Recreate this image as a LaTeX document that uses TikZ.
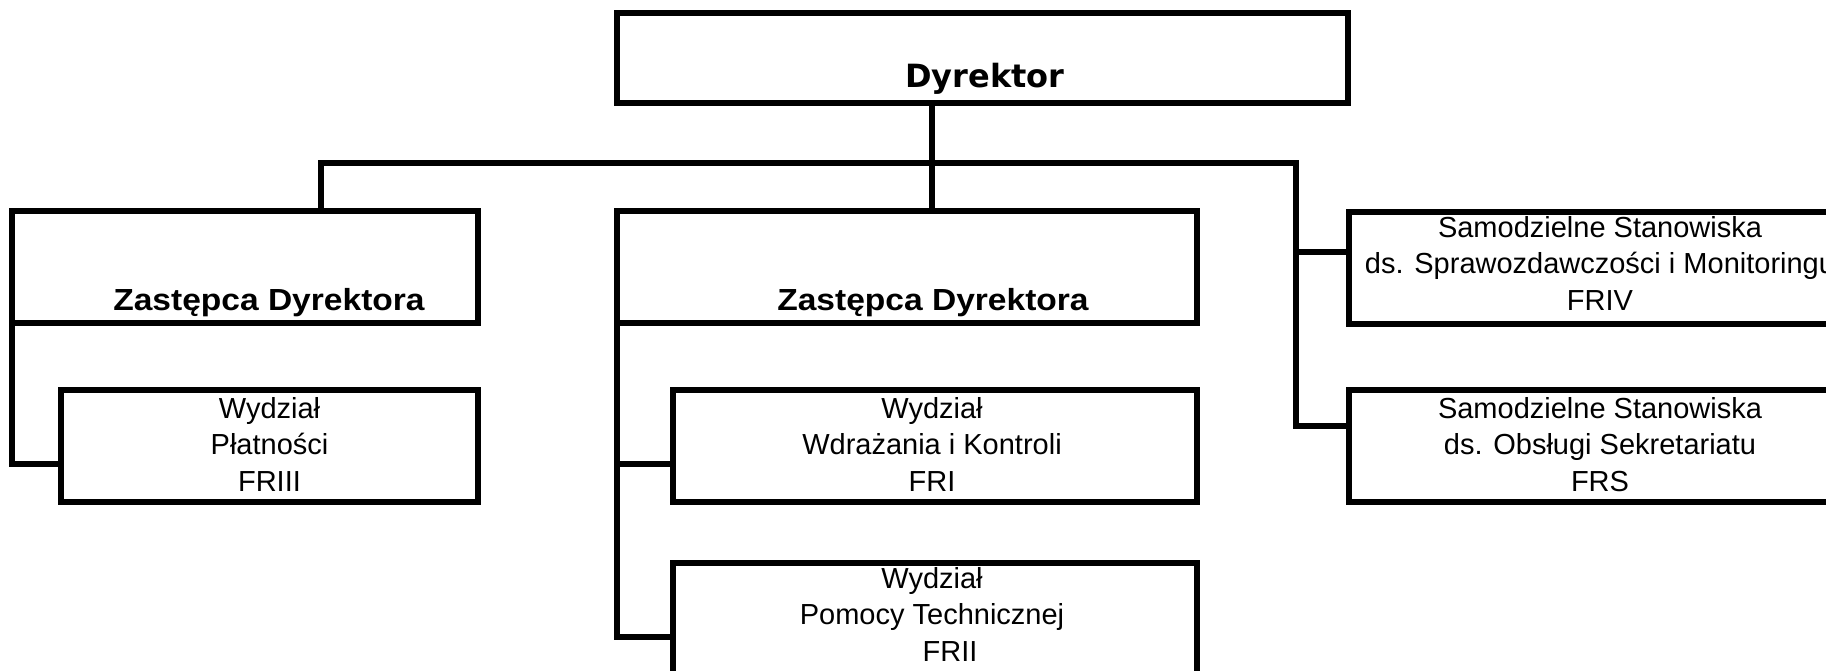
\documentclass[tikz,border=0pt]{standalone}
\usepackage{fontspec}
\setmainfont{Liberation Sans}
\newfontfamily\dyrfont{DejaVu Sans}
\newfontfamily\zdfont[FakeStretch=1.1]{Liberation Sans}
\begin{document}
\begin{tikzpicture}[x=1pt,y=-1pt,
  box/.style={draw=black, line width=5.5pt, rectangle, inner sep=0pt, outer sep=0pt},
  conn/.style={draw=black, line width=5.5pt},
  txt/.style={inner sep=0pt, align=center, font=\fontsize{29}{36.5}\selectfont},
  zdtxt/.style={inner sep=0pt, font=\zdfont\bfseries\fontsize{30.5}{36}\selectfont},
  dyrtxt/.style={inner sep=0pt, font=\dyrfont\bfseries\fontsize{32}{38}\selectfont}]
\useasboundingbox (0,0) rectangle (1826,670);
\clip (0,0) rectangle (1826,670);
\fill[white] (0,0) rectangle (1826,670);
% boxes
\node[box, minimum width=731pt, minimum height=90pt] (dyr) at (982.5,58) {};
\node[box, minimum width=466pt, minimum height=112pt] (zd1) at (245,267) {};
\node[box, minimum width=580pt, minimum height=112pt] (zd2) at (907,267) {};
\node[box, minimum width=502pt, minimum height=112pt] (friv) at (1600,268) {};
\node[box, minimum width=417pt, minimum height=112pt] (platn) at (269.5,446) {};
\node[box, minimum width=524pt, minimum height=112pt] (fri) at (935,446) {};
\node[box, minimum width=524pt, minimum height=112pt] (frii) at (935,619) {};
\node[box, minimum width=502pt, minimum height=112pt] (frs) at (1600,446) {};
% texts (anchor base = baseline of the last line)
\node[dyrtxt, anchor=base] (dyrt) at (985,87) {Dyrektor};
\node[zdtxt, anchor=base] (zd1t) at (269,310) {Zastępca Dyrektora};
\node[zdtxt, anchor=base] (zd2t) at (933,310) {Zastępca Dyrektora};
\node[txt, anchor=base] (frivt) at (1600,310) {Samodzielne Stanowiska\\ds. Sprawozdawczości i Monitoringu\\FRIV};
\node[txt, anchor=base] (platnt) at (269.5,491) {Wydział\\Płatności\\FRIII};
\node[txt, anchor=base] (frit) at (932,491) {Wydział\\Wdrażania i Kontroli\\FRI};
\node[txt, anchor=base] (friit) at (932,661) {Wydział\\Pomocy Technicznej\\\hspace*{36pt}FRII};
\node[txt, anchor=base] (frst) at (1600,491) {Samodzielne Stanowiska\\ds. Obsługi Sekretariatu\\FRS};
% junction coordinates
\coordinate (jd) at (932,163);
\coordinate (bl) at (321,163);
\coordinate (br) at (1296,163);
\coordinate (r1) at (1296,252);
\coordinate (r2) at (1296,426);
\coordinate (l1) at (12,464);
\coordinate (m1) at (617,464);
\coordinate (m2) at (617,637);
% connectors
\draw[conn] (jd |- dyr.south) -- (jd |- zd2.north);
\draw[conn] (bl |- zd1.north) -- (bl) -- (br) -- (r2) -- (r2 -| frs.west);
\draw[conn] (r1) -- (r1 -| friv.west);
\draw[conn] (zd1.south west) -- (l1) -- (l1 -| platn.west);
\draw[conn] (zd2.south west) -- (m2) -- (m2 -| frii.west);
\draw[conn] (m1) -- (m1 -| fri.west);
\end{tikzpicture}
\end{document}
